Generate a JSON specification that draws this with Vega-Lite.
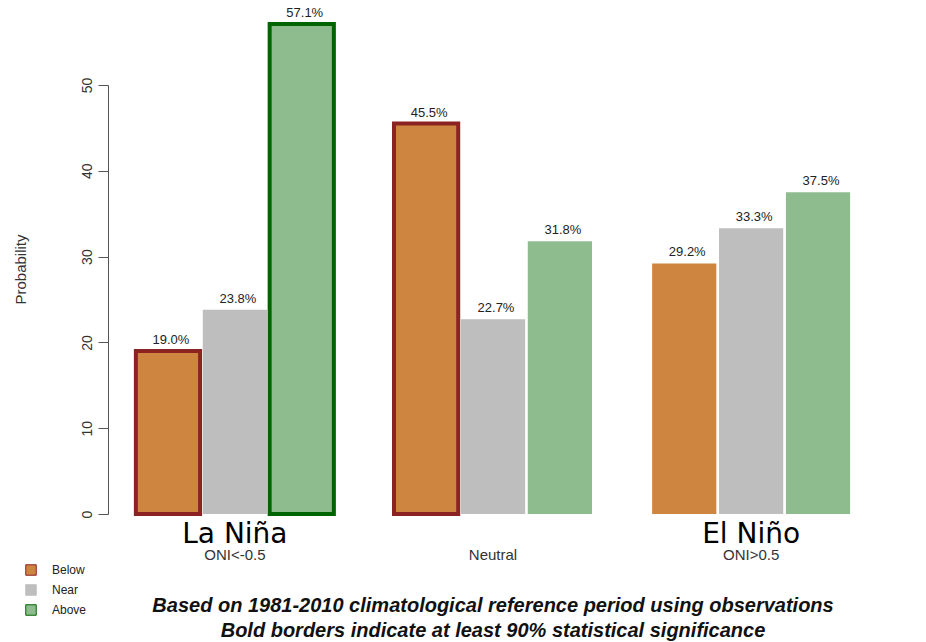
{
  "$schema": "https://vega.github.io/schema/vega-lite/v6.json",
  "width": 770,
  "height": 429,
  "autosize": {"type": "none"},
  "padding": {"left": 108, "top": 85, "right": 48, "bottom": 128},
  "background": "white",
  "config": {
    "view": {"stroke": null},
    "font": "Liberation Sans",
    "axis": {"labelFont": "Liberation Sans", "titleFont": "Liberation Sans"}
  },
  "title": {
    "text": ["Based on 1981-2010 climatological reference period using observations", "Bold borders indicate at least 90% statistical significance"],
    "orient": "bottom",
    "anchor": "middle",
    "font": "Liberation Sans",
    "fontSize": 20,
    "fontStyle": "italic",
    "fontWeight": "bold",
    "color": "#111",
    "lineHeight": 25,
    "offset": -22
  },
  "datasets": {
    "probs": [
      {"oni": "ONI<-0.5", "category": "Below", "value": 19.0, "significant": true},
      {"oni": "ONI<-0.5", "category": "Near", "value": 23.8, "significant": false},
      {"oni": "ONI<-0.5", "category": "Above", "value": 57.1, "significant": true},
      {"oni": "Neutral", "category": "Below", "value": 45.5, "significant": true},
      {"oni": "Neutral", "category": "Near", "value": 22.7, "significant": false},
      {"oni": "Neutral", "category": "Above", "value": 31.8, "significant": false},
      {"oni": "ONI>0.5", "category": "Below", "value": 29.2, "significant": false},
      {"oni": "ONI>0.5", "category": "Near", "value": 33.3, "significant": false},
      {"oni": "ONI>0.5", "category": "Above", "value": 37.5, "significant": false}
    ],
    "phases": [
      {"oni": "ONI<-0.5", "name": "La Niña"},
      {"oni": "ONI>0.5", "name": "El Niño"}
    ]
  },
  "encoding": {
    "x": {
      "field": "oni",
      "type": "nominal",
      "sort": ["ONI<-0.5", "Neutral", "ONI>0.5"],
      "scale": {"paddingInner": 0.233, "paddingOuter": 0.108},
      "axis": {
        "title": null,
        "domain": false,
        "ticks": false,
        "labelAngle": 0,
        "labelFontSize": 15,
        "labelColor": "#333",
        "labelPadding": 33
      }
    }
  },
  "layer": [
    {
      "data": {"name": "probs"},
      "mark": {"type": "bar"},
      "encoding": {
        "xOffset": {
          "field": "category",
          "type": "nominal",
          "sort": ["Below", "Near", "Above"],
          "scale": {"paddingInner": 0.04}
        },
        "y": {
          "field": "value",
          "type": "quantitative",
          "scale": {"domain": [0, 50], "nice": false, "zero": true},
          "axis": {
            "title": "Probability",
            "titleFontSize": 15,
            "titleFontWeight": "normal",
            "titleColor": "#333",
            "titleX": -80,
            "titleY": 184,
            "titleAngle": -90,
            "values": [0, 10, 20, 30, 40, 50],
            "grid": false,
            "domainColor": "#555",
            "tickColor": "#555",
            "tickSize": 10,
            "labelAngle": -90,
            "labelAlign": "center",
            "labelBaseline": "bottom",
            "labelFontSize": 14,
            "labelColor": "#333",
            "labelPadding": 4
          }
        },
        "fill": {
          "field": "category",
          "type": "nominal",
          "sort": ["Below", "Near", "Above"],
          "scale": {"domain": ["Below", "Near", "Above"], "range": ["#CD853F", "#BEBEBE", "#8FBC8F"]},
          "legend": {
            "title": null,
            "orient": "none",
            "legendX": -83,
            "legendY": 479,
            "symbolType": "square",
            "symbolSize": 110,
            "symbolStrokeColor": "#444",
            "symbolStrokeWidth": 1,
            "symbolOpacity": 1,
            "labelFontSize": 12,
            "labelColor": "#222",
            "labelOffset": 15,
            "rowPadding": 4
          }
        },
        "stroke": {
          "field": "category",
          "type": "nominal",
          "scale": {"domain": ["Below", "Near", "Above"], "range": ["#8B2323", "#BEBEBE", "#006400"]},
          "legend": null
        },
        "strokeWidth": {
          "condition": {"test": "datum.significant", "value": 4},
          "value": 0
        }
      }
    },
    {
      "data": {"name": "probs"},
      "transform": [{"calculate": "format(datum.value, '.1f') + '%'", "as": "label"}],
      "mark": {"type": "text", "dy": -4, "dx": 3, "fontSize": 13, "color": "#222", "baseline": "bottom"},
      "encoding": {
        "xOffset": {
          "field": "category",
          "type": "nominal",
          "sort": ["Below", "Near", "Above"],
          "scale": {"paddingInner": 0.04}
        },
        "y": {"field": "value", "type": "quantitative"},
        "text": {"field": "label"}
      }
    },
    {
      "data": {"name": "phases"},
      "mark": {"type": "text", "font": "DejaVu Sans", "fontSize": 28, "color": "#000", "baseline": "middle", "dy": 21},
      "encoding": {
        "y": {"datum": 0, "type": "quantitative"},
        "text": {"field": "name"}
      }
    }
  ]
}
